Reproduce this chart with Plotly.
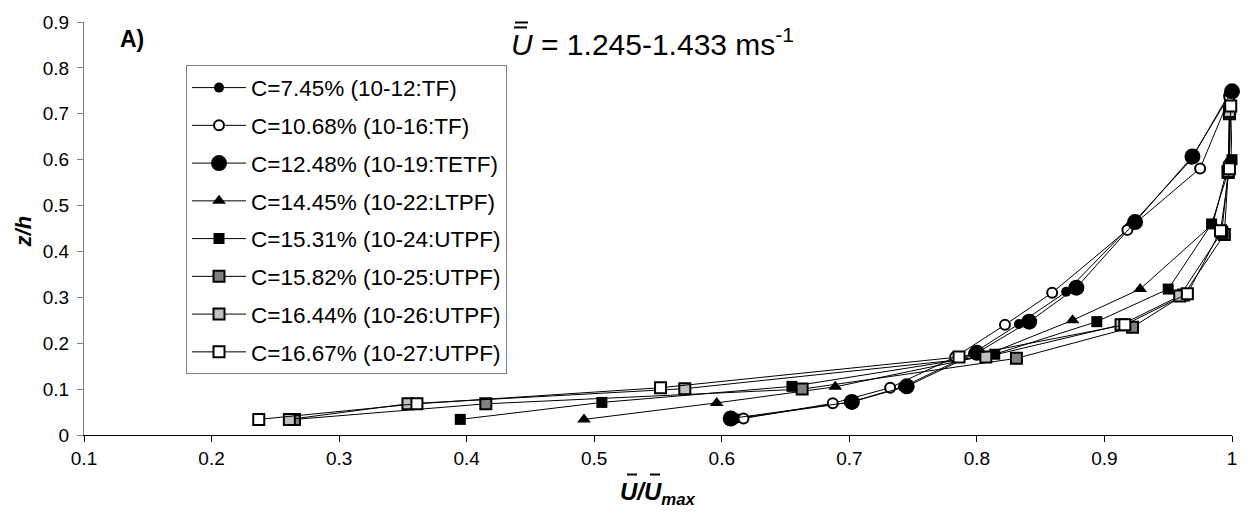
import plotly.graph_objects as go

# ---------------- data ----------------
series_names = [
    "C=7.45% (10-12:TF)",
    "C=10.68% (10-16:TF)",
    "C=12.48% (10-19:TETF)",
    "C=14.45% (10-22:LTPF)",
    "C=15.31% (10-24:UTPF)",
    "C=15.82% (10-25:UTPF)",
    "C=16.44% (10-26:UTPF)",
    "C=16.67% (10-27:UTPF)",
]

c745_x = [0.612, 0.700, 0.742, 0.797, 0.833, 0.870, 0.920, 0.968, 0.997]
c745_y = [0.036, 0.071, 0.105, 0.178, 0.242, 0.312, 0.455, 0.600, 0.740]
c1068_x = [0.617, 0.687, 0.732, 0.783, 0.822, 0.859, 0.918, 0.975, 0.998]
c1068_y = [0.036, 0.069, 0.103, 0.170, 0.240, 0.310, 0.447, 0.581, 0.735]
c1248_x = [0.607, 0.702, 0.745, 0.800, 0.841, 0.878, 0.924, 0.969, 1.000]
c1248_y = [0.036, 0.072, 0.106, 0.179, 0.247, 0.321, 0.464, 0.607, 0.749]
c1445_x = [0.492, 0.596, 0.689, 0.805, 0.875, 0.928, 0.985, 0.998, 0.998]
c1445_y = [0.034, 0.070, 0.105, 0.172, 0.250, 0.318, 0.460, 0.600, 0.710]
c1531_x = [0.395, 0.506, 0.655, 0.814, 0.894, 0.950, 0.984, 1.000, 0.999]
c1531_y = [0.034, 0.071, 0.106, 0.176, 0.247, 0.318, 0.460, 0.600, 0.710]
c1582_x = [0.265, 0.415, 0.663, 0.831, 0.922, 0.962, 0.994, 0.997, 0.998]
c1582_y = [0.034, 0.068, 0.100, 0.167, 0.235, 0.305, 0.437, 0.572, 0.700]
c1644_x = [0.261, 0.354, 0.571, 0.807, 0.913, 0.959, 0.992, 0.997, 0.998]
c1644_y = [0.034, 0.068, 0.101, 0.170, 0.240, 0.303, 0.442, 0.575, 0.705]
c1667_x = [0.237, 0.361, 0.552, 0.786, 0.916, 0.965, 0.991, 0.998, 0.999]
c1667_y = [0.034, 0.068, 0.103, 0.170, 0.240, 0.308, 0.445, 0.580, 0.717]

x_ticks = [0.1, 0.2, 0.3, 0.4, 0.5, 0.6, 0.7, 0.8, 0.9, 1.0]
x_ticktext = ["0.1", "0.2", "0.3", "0.4", "0.5", "0.6", "0.7", "0.8", "0.9", "1"]
y_ticks = [0, 0.1, 0.2, 0.3, 0.4, 0.5, 0.6, 0.7, 0.8, 0.9]
y_ticktext = ["0", "0.1", "0.2", "0.3", "0.4", "0.5", "0.6", "0.7", "0.8", "0.9"]

xs = [c745_x, c1068_x, c1248_x, c1445_x, c1531_x, c1582_x, c1644_x, c1667_x]
ys = [c745_y, c1068_y, c1248_y, c1445_y, c1531_y, c1582_y, c1644_y, c1667_y]

# ---------------- styles ----------------
styles = [
    dict(symbol="circle", size=10, color="black", line=dict(width=0)),
    dict(symbol="circle", size=10, color="white", line=dict(width=2, color="black")),
    dict(symbol="circle", size=16, color="black", line=dict(width=0)),
    dict(symbol="triangle-up", size=12, color="black", line=dict(width=0)),
    dict(symbol="square", size=11, color="black", line=dict(width=0)),
    dict(symbol="square", size=11, color="#808080", line=dict(width=2, color="black")),
    dict(symbol="square", size=11, color="#C0C0C0", line=dict(width=2, color="black")),
    dict(symbol="square", size=11, color="white", line=dict(width=2, color="black")),
]

FONT = "Arial, Liberation Sans, sans-serif"
W, H = 1255, 516
L, R, T, B = 84, 23, 17, 81
PW, PH = W - L - R, H - T - B


def px(xp):
    return (xp - L) / PW


def py(yp):
    return (H - B - yp) / PH


fig = go.Figure()
for i, name in enumerate(series_names):
    fig.add_trace(go.Scatter(
        x=xs[i], y=ys[i], mode="lines+markers", name=name,
        legendgroup=f"g{i}",
        line=dict(color="black", width=1),
        marker=styles[i],
        cliponaxis=False,
    ))

annotations = [
    dict(text="<b>A)</b>", x=px(132), y=py(34), xref="paper", yref="paper",
         xanchor="center", yanchor="middle",
         showarrow=False, font=dict(size=23, color="black", family=FONT)),
    dict(text="<i>U</i> = 1.245-1.433 ms<sup>-1</sup>", x=px(509), y=py(37),
         xref="paper", yref="paper", xanchor="left", yanchor="middle",
         showarrow=False, font=dict(size=30, color="black", family=FONT)),
    dict(text="<b><i>U/U<sub>max</sub></i></b>", x=px(618), y=py(494),
         xref="paper", yref="paper", xanchor="left", yanchor="middle",
         showarrow=False, font=dict(size=24, color="black", family=FONT)),
    dict(text="<b><i>z/h</i></b>", x=px(23), y=py(229), xref="paper", yref="paper",
         xanchor="center", yanchor="middle",
         textangle=-90, showarrow=False,
         font=dict(size=22, color="black", family=FONT)),
]

shapes = []
for (x0, x1, yy) in [(515, 528, 17.5), (514, 527, 22.5), (627, 637, 475), (650, 660, 475)]:
    shapes.append(dict(type="line", xref="paper", yref="paper",
                       x0=px(x0), x1=px(x1), y0=py(yy), y1=py(yy),
                       line=dict(color="black", width=2)))

fig.update_layout(
    width=W, height=H,
    margin=dict(l=L, r=R, t=T, b=B),
    paper_bgcolor="white", plot_bgcolor="white",
    font=dict(family=FONT, color="black"),
    showlegend=True,
    legend=dict(x=px(186), y=py(61), xanchor="left", yanchor="top",
                bgcolor="white", bordercolor="#808080", borderwidth=1,
                font=dict(size=22.5, family=FONT, color="black"),
                tracegroupgap=5.5, itemwidth=54),
    annotations=annotations,
    shapes=shapes,
    xaxis=dict(range=[0.1, 1.0], tickvals=x_ticks, ticktext=x_ticktext,
               showgrid=False, zeroline=False, showline=True, linecolor="black",
               linewidth=1, ticks="outside", ticklen=6, tickcolor="black",
               tickfont=dict(size=19, family=FONT, color="black")),
    yaxis=dict(range=[0, 0.9], tickvals=y_ticks, ticktext=y_ticktext,
               showgrid=False, zeroline=False, showline=True, linecolor="#808080",
               linewidth=1, ticks="outside", ticklen=6, tickcolor="#808080",
               ticklabelstandoff=4,
               tickfont=dict(size=19, family=FONT, color="black")),
)

fig.write_html("out.html")
